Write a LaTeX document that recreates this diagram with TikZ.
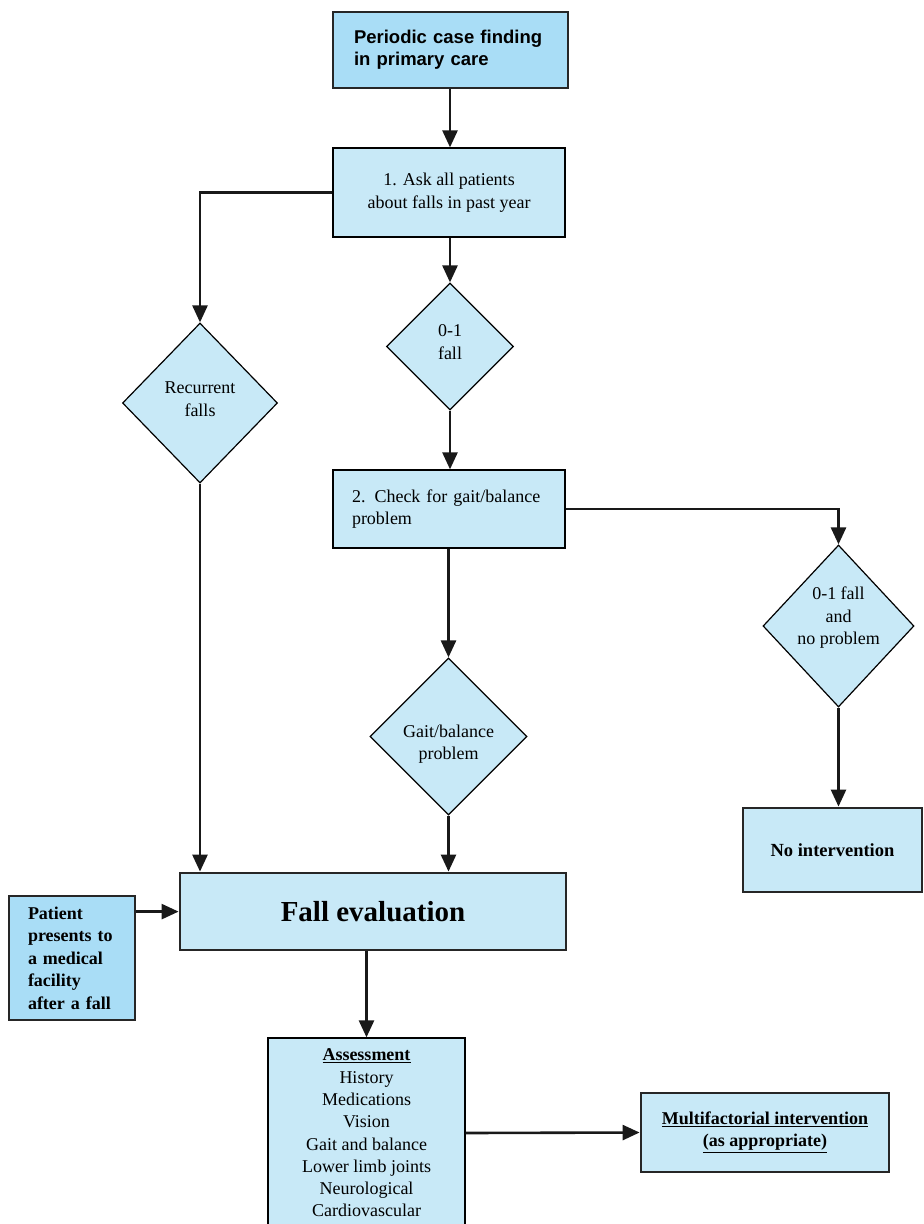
\documentclass[tikz,border=0pt]{standalone}
\usepackage{fontspec}
\setmainfont{Liberation Serif}
\newfontfamily\hsans{Liberation Sans}
\usetikzlibrary{shapes.geometric,arrows.meta}
\definecolor{boxdark}{HTML}{A9DDF6}
\definecolor{boxlight}{HTML}{C8E9F7}
\tikzset{
  thinbox/.style={draw=black, line width=1.3pt, fill=boxlight, inner sep=0pt},
  thickbox/.style={draw=black!85, line width=2.8pt, inner sep=0pt},
  diam/.style={shape=diamond, draw=black, line width=1.2pt, fill=boxlight, inner sep=0pt},
  dtext/.style={align=center, font=\fontsize{18}{22.5}\selectfont, inner sep=0pt},
  arr/.style={draw=black!90, line width=2.6pt, -{Triangle[length=17pt,width=15pt]}},
}
\begin{document}
\begin{tikzpicture}[x=1pt,y=-1pt]
\useasboundingbox (0,0) rectangle (924,1224);
\clip (0,0) rectangle (924,1224);

% top box
\node[thickbox, fill=boxdark, minimum width=235pt, minimum height=76pt, inner xsep=21pt,
      text width=193pt, align=left, font=\hsans\bfseries\fontsize{18.5}{22}\selectfont]
  (top) at (450.5,50) {\raisebox{-2pt}{\parbox{193pt}{Periodic case finding\\in primary care}}};

% step 1
\node[thinbox, minimum width=232pt, minimum height=89pt, align=center,
      font=\fontsize{18}{22.5}\selectfont]
  (ask) at (449,192.5) {1. Ask all patients\\about falls in past year};

% diamonds
\node[diam, minimum width=155pt, minimum height=160pt] (rec) at (200,403) {};
\node[dtext] at (200,399) {Recurrent\\falls};

\node[diam, minimum width=127pt, minimum height=127pt] (one) at (450,346.5) {};
\node[dtext] at (450,342) {0-1\\fall};

% step 2
\node[thinbox, minimum width=232pt, minimum height=78pt, inner xsep=19pt,
      text width=194pt, align=left, font=\fontsize{18}{22.5}\selectfont]
  (check) at (449,509) {2. Check for gait/balance\\problem};

\node[diam, minimum width=151pt, minimum height=162pt] (nop) at (838.5,626) {};
\node[dtext] at (838.5,618) {0-1 fall\\and\\no problem};

\node[diam, minimum width=157pt, minimum height=157pt] (gait) at (448.5,736.5) {};
\node[dtext] at (448.5,744) {Gait/balance\\problem};

% no intervention
\node[thickbox, fill=boxlight, minimum width=179pt, minimum height=84pt,
      font=\bfseries\fontsize{18.5}{22}\selectfont]
  (noint) at (832.5,850) {No intervention};

% fall evaluation
\node[thickbox, fill=boxlight, minimum width=386pt, minimum height=77pt,
      font=\bfseries\fontsize{29}{34}\selectfont]
  (fall) at (373,911.5) {Fall evaluation};

% patient box
\node[thickbox, fill=boxdark, minimum width=126pt, minimum height=124pt, inner xsep=19pt,
      text width=88pt, align=left, font=\bfseries\fontsize{18}{22.5}\selectfont]
  (pat) at (72,958) {Patient\\presents to\\a medical\\facility\\after a fall};

% assessment
\node[thinbox, minimum width=197pt, minimum height=190pt, align=center,
      font=\fontsize{18}{22.3}\selectfont]
  (asse) at (366.5,1133) {\underline{\textbf{Assessment}}\\History\\Medications\\Vision\\Gait and balance\\Lower limb joints\\Neurological\\Cardiovascular};

% multifactorial
\node[thickbox, fill=boxlight, minimum width=248pt, minimum height=79pt, align=center,
      font=\bfseries\fontsize{18}{22}\selectfont]
  (multi) at (765,1132.5) {\underline{Multifactorial intervention}\\\underline{(as appropriate)}};

% connectors
\draw[arr] (top.south -| ask.north) ++(1,0) coordinate (t1) -- (t1 |- ask.north);
\draw[arr] (ask.west) -| (rec.north);
\draw[arr] (one.north |- ask.south) -- (one.north);
\draw[arr] (one.south) -- (one.south |- check.north);
\draw[arr] (check.east) -| (nop.north);
\draw[arr] (gait.north |- check.south) -- (gait.north);
\draw[arr] (nop.south) -- (nop.south |- noint.north);
\draw[arr] (rec.south) -- (rec.south |- fall.north);
\draw[arr] (gait.south) -- (gait.south |- fall.north);
\draw[arr] ([yshift=-17pt]pat.north east) -- ([yshift=-17pt]pat.north east -| fall.west);
\draw[arr] (asse.north |- fall.south) -- (asse.north);
\draw[arr] (asse.east) -- (multi.west);
\end{tikzpicture}
\end{document}
